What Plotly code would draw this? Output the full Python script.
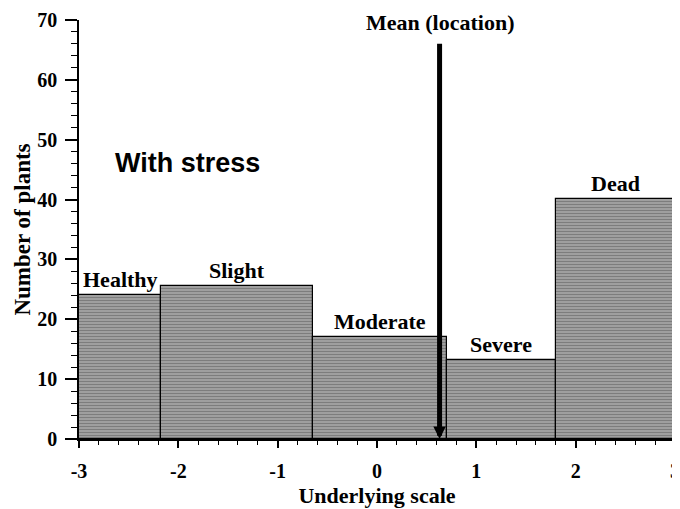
import plotly.graph_objects as go

# ---- data ----
categories = ["Healthy", "Slight", "Moderate", "Severe", "Dead"]
bin_edges = [-3.0, -2.17, -0.64, 0.7, 1.8, 3.0]
counts = [24.0, 25.6, 17.0, 13.2, 40.1]
mean_location = 0.63
mean_arrow_top = 66.3
x_tick_vals = [-3, -2, -1, 0, 1, 2, 3]
x_tick_text = ["-3", "-2", "-1", "0", "1", "2", "3"]
y_tick_vals = [0, 10, 20, 30, 40, 50, 60, 70]

centers = [(bin_edges[i] + bin_edges[i + 1]) / 2 for i in range(len(counts))]
widths = [bin_edges[i + 1] - bin_edges[i] for i in range(len(counts))]

serif = "Liberation Serif"
sans = "Liberation Sans"

fig = go.Figure()

fig.add_trace(go.Bar(
    x=centers, y=counts, width=widths,
    marker=dict(
        color="#959595",
        line=dict(color="black", width=1.2),
        pattern=dict(shape="-", fgcolor="#585858", bgcolor="#a2a2a2",
                     size=3, solidity=0.4),
    ),
    showlegend=False, hoverinfo="skip",
))

# axis end arrows (triangles at both ends of the x axis)
fig.add_trace(go.Scatter(
    x=[x_tick_vals[0] - 0.055, x_tick_vals[-1] + 0.03], y=[0, 0],
    mode="markers",
    marker=dict(symbol=["triangle-left", "triangle-right"], size=10, color="black"),
    cliponaxis=False, showlegend=False, hoverinfo="skip",
))

annotations = []
for c, h, name in zip(centers, counts, categories):
    annotations.append(dict(
        x=c, y=h, text=name, showarrow=False, yanchor="bottom", yshift=1,
        font=dict(family=serif, size=22, color="black", weight="bold"),
    ))

# mean arrow
annotations.append(dict(
    x=mean_location, y=0, ax=mean_location, ay=mean_arrow_top,
    xref="x", yref="y", axref="x", ayref="y",
    showarrow=True, arrowhead=2, arrowsize=0.5, arrowwidth=5,
    arrowcolor="black", standoff=0, text="",
))
annotations.append(dict(
    x=mean_location, y=70, text="Mean (location)", showarrow=False,
    yanchor="middle", yshift=-2,
    font=dict(family=serif, size=22, color="black", weight="bold"),
))
annotations.append(dict(
    x=-1.91, y=46.1, text="With stress", showarrow=False,
    font=dict(family=sans, size=27, color="black", weight="bold"),
))

# the page body adds an 8px offset; margins compensate for it
fig.update_layout(
    width=680, height=509,
    margin=dict(l=71, r=13, t=12, b=77.5),
    plot_bgcolor="white", paper_bgcolor="white",
    bargap=0,
    annotations=annotations,
    xaxis=dict(
        range=[-3, 3], showgrid=False, zeroline=False, automargin=False,
        showline=True, linecolor="black", linewidth=1.5,
        ticks="outside", ticklen=7, tickwidth=1.5, tickcolor="black",
        tickvals=x_tick_vals, ticktext=x_tick_text,
        ticklabelstandoff=6,
        tickfont=dict(family=serif, size=20, color="black", weight="bold"),
        minor=dict(dtick=0.2, ticks="outside", ticklen=4, tickwidth=1.2,
                   tickcolor="black", showgrid=False),
        title=dict(text="Underlying scale", standoff=7,
                   font=dict(family=serif, size=22, color="black", weight="bold")),
    ),
    yaxis=dict(
        range=[0, 70], showgrid=False, zeroline=False, automargin=False,
        showline=True, linecolor="black", linewidth=1.5,
        ticks="outside", ticklen=12, tickwidth=1.5, tickcolor="black",
        tickvals=y_tick_vals,
        ticklabelstandoff=4,
        tickfont=dict(family=serif, size=20, color="black", weight="bold"),
        minor=dict(dtick=2, ticks="outside", ticklen=6, tickwidth=1.2,
                   tickcolor="black", showgrid=False),
        title=dict(text="Number of plants", standoff=0,
                   font=dict(family=serif, size=23, color="black", weight="bold")),
    ),
)

fig.write_html("out.html")
